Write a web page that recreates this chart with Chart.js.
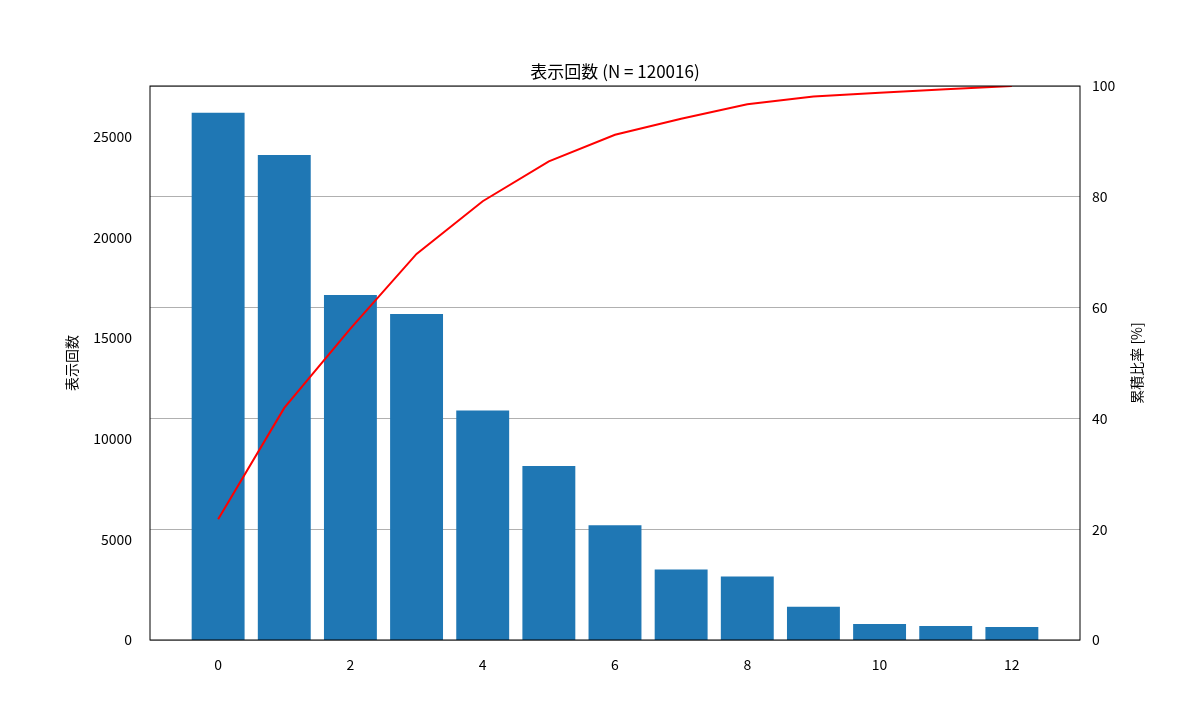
<!DOCTYPE html>
<html><head><meta charset="utf-8">
<script src="https://cdn.jsdelivr.net/npm/chart.js@4/dist/chart.umd.min.js"></script>
<style>html,body{margin:0;padding:0;background:#fff}#w{width:1200px;height:720px}</style>
</head><body><div id="w"><canvas id="c"></canvas></div>
<script>
const categories = [0,1,2,3,4,5,6,7,8,9,10,11,12];
const counts = [26200,24100,17150,16200,11400,8650,5700,3500,3150,1650,800,700,650];
const cumulative = [21.8,41.9,56.2,69.7,79.2,86.4,91.2,94.1,96.7,98.1,98.8,99.4,100];
const leftTicks = [0,5000,10000,15000,20000,25000];
const titleText = '表示回数 (N = 120016)';
const leftLabel = '表示回数';
const rightLabel = '累積比率 [%]';
const FONT = "'Noto Sans CJK JP','DejaVu Sans',sans-serif";

const frame = {
  id:'frame',
  afterDatasetsDraw(ch){
    const a=ch.chartArea,c=ch.ctx;
    c.save();c.strokeStyle='#000';c.lineWidth=1;
    c.strokeRect(a.left,a.top,a.right-a.left,a.bottom-a.top);
    c.fillStyle='#000';c.font='17px '+FONT;c.textAlign='center';c.textBaseline='bottom';
    c.fillText(titleText,(a.left+a.right)/2,a.top-6);
    c.font='14px '+FONT;c.textBaseline='middle';
    const cy=(a.top+a.bottom)/2;
    [[72,leftLabel],[1137,rightLabel]].forEach(([x,t])=>{
      c.save();c.translate(x,cy);c.rotate(-Math.PI/2);c.fillText(t,0,0);c.restore();
    });
    c.restore();
  }
};
Chart.defaults.font.family=FONT;
Chart.defaults.color='#000';
new Chart(document.getElementById('c'),{
  data:{datasets:[
    {type:'line',data:categories.map((x,i)=>({x,y:cumulative[i]})),yAxisID:'y2',borderColor:'#ff0000',borderWidth:2,pointRadius:0,tension:0,order:0},
    {type:'bar',data:categories.map((x,i)=>({x,y:counts[i]})),yAxisID:'y',backgroundColor:'#1f77b4',barPercentage:0.8,categoryPercentage:1,order:1}
  ]},
  options:{
    responsive:true,maintainAspectRatio:false,animation:false,
    layout:{padding:{top:86,left:0,right:0,bottom:0}},
    plugins:{legend:{display:false},tooltip:{enabled:false}},
    scales:{
      x:{type:'linear',offset:false,min:-1.03,max:13.03,grid:{display:false},border:{display:false},
        afterBuildTicks:s=>{s.ticks=[0,2,4,6,8,10,12].map(v=>({value:v}));},
        ticks:{font:{size:14},padding:8},
        afterFit:s=>{s.height=80;}},
      y:{position:'left',min:0,max:27530,grid:{display:false},border:{display:false},
        afterBuildTicks:s=>{s.ticks=leftTicks.map(v=>({value:v}));},
        ticks:{font:{size:14},padding:10,callback:v=>String(v)},
        afterFit:s=>{s.width=150;}},
      y2:{position:'right',min:0,max:100,grid:{color:'#b0b0b0',drawTicks:false},border:{display:false},
        ticks:{stepSize:20,font:{size:14},padding:12},
        afterFit:s=>{s.width=120;}}
    }
  },
  plugins:[frame]
});
</script></body></html>
